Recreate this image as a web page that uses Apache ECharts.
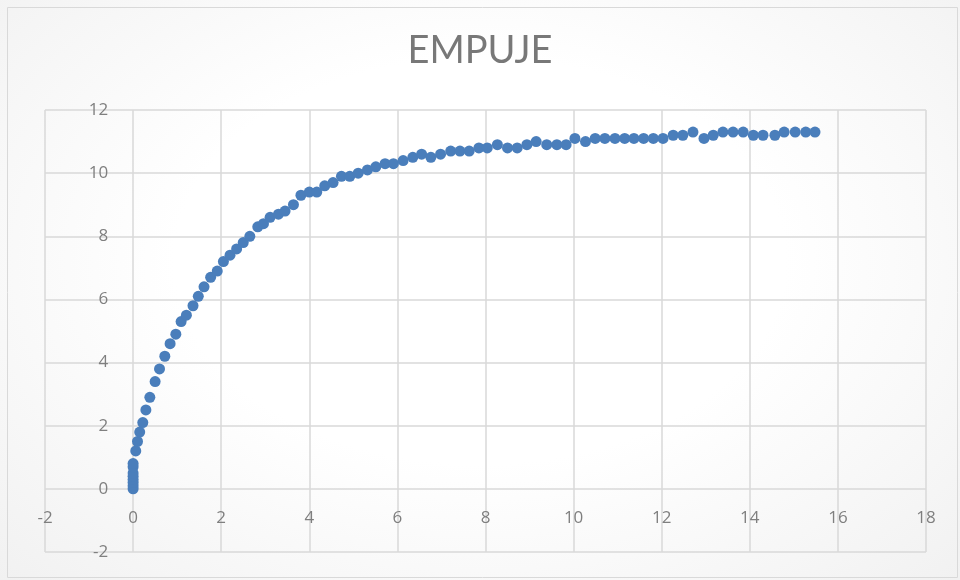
<!DOCTYPE html>
<html>
<head>
<meta charset="utf-8">
<title>EMPUJE</title>
<script src="https://cdn.jsdelivr.net/npm/echarts@6/dist/echarts.min.js"></script>
<style>
  html, body { margin: 0; padding: 0; }
  body {
    width: 960px; height: 580px; overflow: hidden;
    background: radial-gradient(ellipse at 50% 45%, #ffffff 0%, #ffffff 45%, #f1f1f1 100%);
  }
  #chart { width: 960px; height: 580px; }
</style>
</head>
<body>
<div id="chart"></div>
<script>
// Measured thrust curve: x readings and the matching thrust values
const xValues = [
  0, 0, 0, 0, 0, 0, 0, 0,
  0.06, 0.10, 0.15, 0.22, 0.29, 0.38, 0.50, 0.60, 0.72, 0.84,
  0.97, 1.09, 1.21, 1.36, 1.48, 1.61, 1.76, 1.91, 2.05, 2.20,
  2.35, 2.50, 2.65, 2.83, 2.96, 3.11, 3.30, 3.45, 3.64, 3.81,
  4.00, 4.17, 4.35, 4.54, 4.73, 4.92, 5.11, 5.32, 5.51, 5.72,
  5.91, 6.13, 6.35, 6.55, 6.76, 6.98, 7.21, 7.42, 7.63, 7.85,
  8.04, 8.27, 8.50, 8.72, 8.94, 9.15, 9.39, 9.62, 9.83, 10.03,
  10.27, 10.49, 10.71, 10.94, 11.16, 11.37, 11.59, 11.81, 12.03, 12.26,
  12.48, 12.71, 12.96, 13.17, 13.39, 13.62, 13.85, 14.08, 14.30, 14.57,
  14.78, 15.03, 15.27, 15.48
];
const yValues = [
  0.0, 0.1, 0.2, 0.3, 0.4, 0.5, 0.7, 0.8,
  1.2, 1.5, 1.8, 2.1, 2.5, 2.9, 3.4, 3.8, 4.2, 4.6,
  4.9, 5.3, 5.5, 5.8, 6.1, 6.4, 6.7, 6.9, 7.2, 7.4,
  7.6, 7.8, 8.0, 8.3, 8.4, 8.6, 8.7, 8.8, 9.0, 9.3,
  9.4, 9.4, 9.6, 9.7, 9.9, 9.9, 10.0, 10.1, 10.2, 10.3,
  10.3, 10.4, 10.5, 10.6, 10.5, 10.6, 10.7, 10.7, 10.7, 10.8,
  10.8, 10.9, 10.8, 10.8, 10.9, 11.0, 10.9, 10.9, 10.9, 11.1,
  11.0, 11.1, 11.1, 11.1, 11.1, 11.1, 11.1, 11.1, 11.1, 11.2,
  11.2, 11.3, 11.1, 11.2, 11.3, 11.3, 11.3, 11.2, 11.2, 11.2,
  11.3, 11.3, 11.3, 11.3
];
const chartTitle = 'EMPUJE';

const points = xValues.map((x, i) => [x, yValues[i]]);

const gridColor = '#d9d9d9';
const labelColor = '#7f7f7f';
const labelFont = { color: labelColor, fontSize: 17, fontFamily: 'Open Sans, sans-serif' };
const gridBox = { left: 45, right: 34, top: 110, bottom: 28 };

const chart = echarts.init(document.getElementById('chart'), null, { renderer: 'canvas' });
chart.setOption({
  backgroundColor: 'transparent',
  animation: false,
  title: {
    text: chartTitle,
    left: 'center',
    top: 27,
    textStyle: {
      color: '#787878',
      fontSize: 38,
      fontWeight: 'normal',
      fontFamily: 'Lato, Open Sans, sans-serif'
    }
  },
  graphic: [{
    type: 'rect',
    left: 5, top: 5,
    shape: { width: 950, height: 570 },
    style: { fill: 'none', stroke: '#d9d9d9', lineWidth: 1 },
    silent: true
  }],
  grid: Object.assign({ containLabel: false, outerBoundsMode: 'none' }, gridBox),
  xAxis: {
    type: 'value',
    min: -2, max: 18, interval: 2,
    position: 'bottom',
    axisLine: { show: false, onZero: false },
    axisTick: { show: false },
    axisLabel: Object.assign({ margin: 21 }, labelFont),
    splitLine: { show: true, lineStyle: { color: gridColor, width: 1.5 } }
  },
  yAxis: {
    type: 'value',
    min: -2, max: 12, interval: 2,
    position: 'left',
    axisLine: { show: false, onZero: false },
    axisTick: { show: false },
    axisLabel: Object.assign({ margin: 25 }, labelFont),
    splitLine: { show: true, lineStyle: { color: gridColor, width: 1.5 } }
  },
  series: [{
    type: 'scatter',
    data: points,
    symbol: 'circle',
    symbolSize: 11,
    itemStyle: { color: '#4a7ebb', opacity: 1 }
  }]
});

// Move both axes' labels so they sit beside the origin lines, using the grid's own scale
for (let pass = 0; pass < 3; pass++) {
  const origin = chart.convertToPixel({ gridIndex: 0 }, [0, 0]);
  const low = chart.convertToPixel({ gridIndex: 0 }, [-2, -2]);
  chart.setOption({
    xAxis: { offset: -(low[1] - origin[1]) },
    yAxis: { offset: -(origin[0] - low[0]) }
  });
}
</script>
</body>
</html>
